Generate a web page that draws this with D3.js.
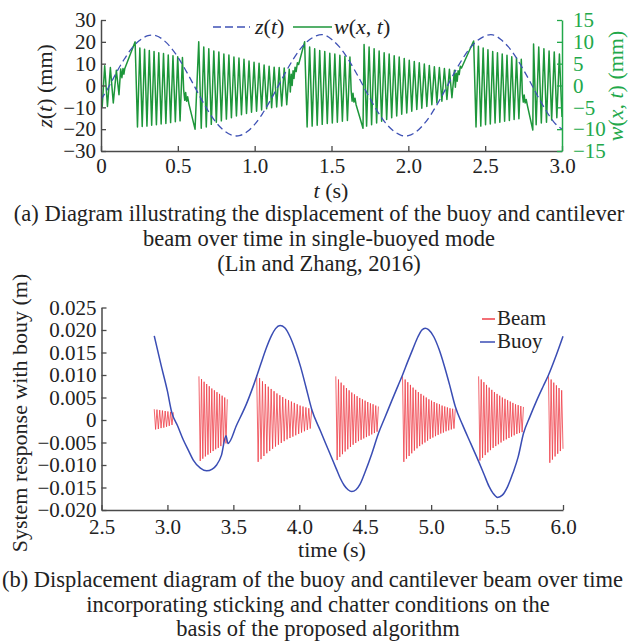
<!DOCTYPE html>
<html>
<head>
<meta charset="utf-8">
<script src="https://cdn.jsdelivr.net/npm/d3@7"></script>
<style>
  body { margin: 0; background: #fff; }
  svg text { font-family: "Liberation Serif", "DejaVu Serif", serif; fill: #222; }
</style>
</head>
<body>
<div id="chart"></div>
<script>

    //=========================================================================
    // Data (a): buoy z(t) in mm, beam w(x,t) in mm (right axis)
    //=========================================================================
    var zTimes = d3.range(0, 61).map(function(i){ return i * 0.05; });
    var zValues = [-6.5,-0.7,5.9,11.9,17.0,20.6,22.7,23.0,21.2,17.8,13.0,7.1,0.7,-5.9,-11.9,-17.0,-20.6,-22.7,-23.0,-21.2,-17.8,-13.0,
                   -7.1,-0.7,5.9,11.9,17.0,20.6,22.7,23.2,21.2,17.8,13.0,7.1,0.7,-5.9,-11.9,-17.0,-20.6,-22.7,-23.0,-21.2,-17.8,-13.0,
                   -7.1,-0.7,5.9,11.9,17.0,20.6,22.7,23.2,21.2,17.8,13.0,7.1,0.7,-5.9,-11.9,-17.0,-20.0];

    var wStart = [[0.000,-2.8],[0.008,-4.8],[0.024,4.5],[0.042,-4.8],[0.061,4.1],[0.080,-4.0],[0.100,3.5],
                  [0.117,-2.1],[0.128,3.8],[0.136,1.8],[0.143,3.9],[0.149,2.6],[0.155,3.9]];

    var wSpans = [[0.222,0.530],[0.636,1.225],[1.325,1.620],[1.712,2.300],[2.425,2.735],[2.815,3.000]];

    var wPeaks0 = [10,-9.5,8.6,-9.4,8.3,-9.3,8.0,-9.1,7.8,-9.0,7.5,-8.8,7.3,-8.7,7.0,-8.5,6.8,-8.3,6.6,-8.1,6.4];
    var wPeaks1 = [10,-9.8,8.8,-9.5,8.4,-8.9,7.9,-8.4,7.7,-8.1,7.2,-7.7,7.0,-7.4,6.5,-7.0,6.3,-6.7,6.0,-6.4,
                   5.6,-6.1,5.3,-5.9,5.1,-5.6,4.7,-5.3,4.4,-5.1,4.2,-4.9,4.1,-4.7,4.0,-4.4,3.7];
    var wPeaks2 = [10,-9.5,8.8,-9.3,8.4,-9.1,8.0,-8.9,7.8,-8.7,7.4,-8.6,7.2,-8.4,6.9,-8.2,6.7,-8.0,6.5];
    var wPeaks3 = [9.4,-9.3,8.8,-9.0,8.4,-8.6,7.9,-8.2,7.5,-7.8,7.2,-7.4,6.8,-7.0,6.5,-6.6,6.2,-6.3,5.8,-5.9,
                   5.5,-5.5,5.2,-5.2,4.9,-4.8,4.6,-4.4,4.3,-4.0,4.1,-3.6,3.9,-3.2,3.7,-2.8,3.5];
    var wPeaks4 = [10.2,-9.5,9.0,-9.3,8.6,-9.0,8.2,-8.8,7.8,-8.6,7.5,-8.4,7.2,-8.2,6.9,-8.0,6.6,-7.8,6.3,-7.6,6.0];
    var wPeaks5 = [9.5,-9.0,8.8,-8.6,8.4,-8.4,7.9,-7.9,7.7,-7.4,7.2,-7.2];

    var wLink0 = [[0.538,-1.0],[0.545,-3.4],[0.551,-1.6],[0.557,-3.6],[0.564,-2.6],[0.572,-4.2],[0.612,-10.0]];
    var wLink1 = [[1.232,-1.5],[1.238,2.6],[1.244,0.0],[1.250,3.4],[1.256,1.6],[1.263,4.2],[1.270,3.2],[1.278,5.2],[1.286,4.8]];
    var wLink2 = [[1.628,-1.2],[1.634,-3.6],[1.640,-1.8],[1.646,-3.8],[1.653,-2.9],[1.660,-4.4],[1.705,-9.8]];
    var wLink3 = [[2.306,-0.4],[2.312,2.8],[2.318,1.0],[2.324,3.4],[2.331,2.5],[2.338,4.4],[2.346,4.0]];
    var wLink4 = [[2.742,-1.8],[2.748,-3.8],[2.754,-2.2],[2.760,-4.0],[2.767,-3.2],[2.775,-4.6],[2.810,-10.2]];

    var topXTicks = [0, 0.5, 1.0, 1.5, 2.0, 2.5, 3.0];
    var topLeftTicks = [-30, -20, -10, 0, 10, 20, 30];
    var topRightTicks = [-15, -10, -5, 0, 5, 10, 15];

    //=========================================================================
    // Data (b): buoy and beam response in m
    //=========================================================================
    var buoyPoints = [[2.90,0.0187],[2.95,0.0124],[3.00,0.0064],[3.031,0.0019],[3.08,-0.0015],[3.12,-0.0044],[3.16,-0.0068],
                      [3.196,-0.0089],[3.25,-0.0107],[3.297,-0.0113],[3.34,-0.0109],[3.373,-0.0100],[3.41,-0.0078],[3.444,-0.0035],
                      [3.459,-0.0052],[3.525,-0.0011],[3.601,0.0037],[3.677,0.0097],[3.71,0.0126],[3.75,0.0160],[3.79,0.0188],
                      [3.82,0.0203],[3.854,0.0210],[3.89,0.0205],[3.93,0.0185],[3.97,0.0155],[4.01,0.0118],[4.05,0.0074],
                      [4.094,0.0024],[4.16,-0.0024],[4.22,-0.0066],[4.28,-0.0108],[4.31,-0.0129],[4.34,-0.0145],[4.37,-0.0155],
                      [4.398,-0.0159],[4.43,-0.0155],[4.46,-0.0143],[4.50,-0.0115],[4.55,-0.0075],[4.60,-0.0030],[4.65,0.0006],
                      [4.70,0.0042],[4.75,0.0077],[4.783,0.0100],[4.82,0.0128],[4.86,0.0157],[4.90,0.0185],[4.93,0.0200],
                      [4.955,0.0204],[4.98,0.0201],[5.02,0.0185],[5.06,0.0157],[5.10,0.0120],[5.14,0.0078],[5.183,0.0030],
                      [5.24,-0.0012],[5.30,-0.0052],[5.36,-0.0092],[5.40,-0.0120],[5.44,-0.0148],[5.47,-0.0163],[5.504,-0.0172],
                      [5.54,-0.0167],[5.58,-0.0148],[5.62,-0.0118],[5.66,-0.0082],[5.70,-0.0030],[5.75,0.0008],[5.80,0.0043],
                      [5.85,0.0075],[5.89,0.0100],[5.95,0.0145],[6.00,0.0186]];

    var beamSpans = [[2.900,3.045],[3.239,3.454],[3.677,4.094],[4.277,4.600],[4.783,5.183],[5.360,5.700],[5.890,6.000]];

    var beamPeaks0 = [0.0024,-0.0021,0.0023,-0.0020,0.0022,-0.0018,0.0021,-0.0017,0.0020,-0.0015,0.0019,-0.0013,0.0018,-0.0011,0.0017];
    var beamPeaks1 = [0.0097,-0.0091,0.0091,-0.0086,0.0085,-0.0081,0.0080,-0.0077,0.0075,-0.0073,0.0070,-0.0069,
                      0.0066,-0.0065,0.0062,-0.0062,0.0058,-0.0058,0.0054,-0.0055,0.0050,-0.0052,0.0046];
    var beamPeaks2 = [0.0100,-0.0093,0.0093,-0.0087,0.0086,-0.0080,0.0080,-0.0074,0.0074,-0.0069,0.0069,-0.0064,0.0064,-0.0059,
                      0.0059,-0.0055,0.0055,-0.0051,0.0051,-0.0047,0.0047,-0.0043,0.0044,-0.0040,0.0041,-0.0037,0.0038,-0.0034,
                      0.0035,-0.0031,0.0032,-0.0028,0.0030,-0.0025,0.0028,-0.0022,0.0026,-0.0019,0.0024];
    var beamPeaks3 = [0.0097,-0.0089,0.0090,-0.0082,0.0083,-0.0076,0.0077,-0.0070,0.0071,-0.0065,0.0066,-0.0060,0.0061,-0.0055,
                      0.0057,-0.0051,0.0053,-0.0047,0.0049,-0.0044,0.0046,-0.0041,0.0043,-0.0038,0.0040,-0.0035,0.0037,-0.0032,
                      0.0035,-0.0029,0.0032,-0.0026,0.0030];
    var beamPeaks4 = [0.0097,-0.0093,0.0090,-0.0086,0.0084,-0.0080,0.0078,-0.0074,0.0072,-0.0068,0.0067,-0.0063,0.0062,-0.0058,
                      0.0058,-0.0054,0.0054,-0.0050,0.0050,-0.0046,0.0046,-0.0042,0.0043,-0.0039,0.0040,-0.0036,0.0037,-0.0033,
                      0.0035,-0.0030,0.0032,-0.0028,0.0030,-0.0025,0.0028,-0.0023,0.0026,-0.0021,0.0025,-0.0019,0.0024];
    var beamPeaks5 = [0.0097,-0.0090,0.0090,-0.0084,0.0084,-0.0078,0.0078,-0.0072,0.0072,-0.0067,0.0067,-0.0062,0.0062,-0.0058,
                      0.0058,-0.0054,0.0054,-0.0050,0.0050,-0.0046,0.0047,-0.0043,0.0044,-0.0040,0.0041,-0.0037,0.0038,-0.0034,
                      0.0035,-0.0031,0.0033,-0.0029,0.0031,-0.0027,0.0029];
    var beamPeaks6 = [0.0097,-0.0095,0.0090,-0.0088,0.0083,-0.0081,0.0077,-0.0075,0.0071,-0.0069,0.0066,-0.0064];

    var botXTicks = [2.5, 3.0, 3.5, 4.0, 4.5, 5.0, 5.5, 6.0];
    var botYTicks = [-0.020, -0.015, -0.010, -0.005, 0, 0.005, 0.010, 0.015, 0.020, 0.025];

    var captionA = ["(a) Diagram illustrating the displacement of the buoy and cantilever",
                    "beam over time in single-buoyed mode",
                    "(Lin and Zhang, 2016)"];
    var captionB = ["(b) Displacement diagram of the buoy and cantilever beam over time",
                    "incorporating sticking and chatter conditions on the",
                    "basis of the proposed algorithm"];

    //=========================================================================
    // Set Initial Formatting
    //=========================================================================
    var width = 632, height = 643, fontSize = 21, labelSize = 22, capSize = 22.5;
    var axisColor = "#4a4a4a", greenAxis = "#22a84a", greenLine = "#1d963a",
        blueDash = "#3f52b5", buoyBlue = "#3a4db4", beamRed = "#ef3f48";

    var svg = d3.select("#chart").append("svg")
      .attr("width", width)
      .attr("height", height);

    function burst(span, peaks) {
      var n = peaks.length;
      return peaks.map(function(v, i){ return [span[0] + (span[1] - span[0]) * i / (n - 1), v]; });
    }

    //=========================================================================
    // Chart (a)
    //=========================================================================
    var xA = d3.scaleLinear().domain([0, 3]).range([101, 562]);
    var yA = d3.scaleLinear().domain([-30, 30]).range([151, 20]);
    var yW = d3.scaleLinear().domain([-15, 15]).range([151, 20]);

    svg.append("clipPath").attr("id", "clipA")
      .append("rect").attr("x", 101).attr("y", 0).attr("width", 461).attr("height", 160);

    var wLinks = [wLink0, wLink1, wLink2, wLink3, wLink4];
    var wPeaks = [wPeaks0, wPeaks1, wPeaks2, wPeaks3, wPeaks4, wPeaks5];
    var wPath = wStart.slice();
    wPeaks.forEach(function(p, i){
      wPath = wPath.concat(burst(wSpans[i], p));
      if (wLinks[i]) wPath = wPath.concat(wLinks[i]);
    });

    var gA = svg.append("g").attr("clip-path", "url(#clipA)");

    gA.append("path")
      .datum(wPath)
      .attr("fill", "none")
      .attr("stroke", greenLine)
      .attr("stroke-width", 1.5)
      .attr("stroke-linejoin", "round")
      .attr("d", d3.line().x(function(d){ return xA(d[0]); }).y(function(d){ return yW(d[1]); }));

    gA.append("path")
      .datum(zTimes.map(function(t, i){ return [t, zValues[i]]; }))
      .attr("fill", "none")
      .attr("stroke", blueDash)
      .attr("stroke-width", 1.3)
      .attr("stroke-dasharray", "7,4")
      .attr("d", d3.line().curve(d3.curveNatural).x(function(d){ return xA(d[0]); }).y(function(d){ return yA(d[1]); }));

    var fmtA = function(d){ return d === 0 ? "0" : d3.format(".1f")(d); };

    var axA = svg.append("g").attr("transform", "translate(0,151)")
      .call(d3.axisBottom(xA).tickValues(topXTicks).tickFormat(fmtA).tickSizeInner(-5).tickSizeOuter(0).tickPadding(7));
    var ayA = svg.append("g").attr("transform", "translate(101,0)")
      .call(d3.axisLeft(yA).tickValues(topLeftTicks).tickFormat(d3.format("d")).tickSizeInner(-5).tickSizeOuter(0).tickPadding(5));
    var ayW = svg.append("g").attr("transform", "translate(562,0)")
      .call(d3.axisRight(yW).tickValues(topRightTicks).tickFormat(d3.format("d")).tickSizeInner(-5).tickSizeOuter(0).tickPadding(11));

    [axA, ayA].forEach(function(g){
      g.select(".domain").attr("stroke", axisColor).attr("stroke-width", 1.5);
      g.selectAll(".tick line").attr("stroke", axisColor).attr("stroke-width", 1.3);
      g.selectAll(".tick text").attr("font-size", fontSize).attr("fill", "#222");
    });
    ayW.select(".domain").attr("stroke", greenAxis).attr("stroke-width", 1.5);
    ayW.selectAll(".tick line").attr("stroke", greenAxis).attr("stroke-width", 1.3);
    ayW.selectAll(".tick text").attr("font-size", fontSize).style("fill", greenAxis);

    // axis labels (a)
    var labZ = svg.append("text").attr("transform", "translate(52,86) rotate(-90)")
      .attr("text-anchor", "middle").attr("font-size", labelSize);
    labZ.append("tspan").attr("font-style", "italic").text("z");
    labZ.append("tspan").text("(");
    labZ.append("tspan").attr("font-style", "italic").text("t");
    labZ.append("tspan").text(") (mm)");

    var labW = svg.append("text").attr("transform", "translate(623,86) rotate(-90)")
      .attr("text-anchor", "middle").attr("font-size", labelSize).style("fill", greenAxis);
    labW.append("tspan").attr("font-style", "italic").style("fill", greenAxis).text("w");
    labW.append("tspan").style("fill", greenAxis).text("(");
    labW.append("tspan").attr("font-style", "italic").style("fill", greenAxis).text("x");
    labW.append("tspan").style("fill", greenAxis).text(", ");
    labW.append("tspan").attr("font-style", "italic").style("fill", greenAxis).text("t");
    labW.append("tspan").style("fill", greenAxis).text(") (mm)");

    var labT = svg.append("text").attr("x", 331).attr("y", 198)
      .attr("text-anchor", "middle").attr("font-size", labelSize);
    labT.append("tspan").attr("font-style", "italic").text("t");
    labT.append("tspan").text(" (s)");

    // legend (a)
    svg.append("line").attr("x1", 213).attr("x2", 250).attr("y1", 27).attr("y2", 27)
      .attr("stroke", blueDash).attr("stroke-width", 1.5).attr("stroke-dasharray", "8,4");
    var lgZ = svg.append("text").attr("x", 255).attr("y", 34).attr("font-size", labelSize);
    lgZ.append("tspan").attr("font-style", "italic").text("z");
    lgZ.append("tspan").text("(");
    lgZ.append("tspan").attr("font-style", "italic").text("t");
    lgZ.append("tspan").text(")");
    svg.append("line").attr("x1", 293).attr("x2", 332).attr("y1", 27).attr("y2", 27)
      .attr("stroke", greenLine).attr("stroke-width", 1.5);
    var lgW = svg.append("text").attr("x", 334).attr("y", 34).attr("font-size", labelSize);
    lgW.append("tspan").attr("font-style", "italic").text("w");
    lgW.append("tspan").text("(");
    lgW.append("tspan").attr("font-style", "italic").text("x");
    lgW.append("tspan").text(", ");
    lgW.append("tspan").attr("font-style", "italic").text("t");
    lgW.append("tspan").text(")");

    //=========================================================================
    // Chart (b)
    //=========================================================================
    var xB = d3.scaleLinear().domain([2.5, 6]).range([101.5, 563]);
    var yB = d3.scaleLinear().domain([-0.020, 0.025]).range([510, 307.5]);

    var beamPeaks = [beamPeaks0, beamPeaks1, beamPeaks2, beamPeaks3, beamPeaks4, beamPeaks5, beamPeaks6];
    var lineB = d3.line().x(function(d){ return xB(d[0]); }).y(function(d){ return yB(d[1]); });

    svg.append("g").selectAll("path")
      .data(beamPeaks.map(function(p, i){ return burst(beamSpans[i], p); }))
      .enter().append("path")
      .attr("fill", "none")
      .attr("stroke", beamRed)
      .attr("stroke-opacity", 0.8)
      .attr("stroke-width", 1)
      .attr("d", lineB);

    svg.append("path")
      .datum(buoyPoints)
      .attr("fill", "none")
      .attr("stroke", buoyBlue)
      .attr("stroke-width", 1.5)
      .attr("d", d3.line().curve(d3.curveMonotoneX).x(function(d){ return xB(d[0]); }).y(function(d){ return yB(d[1]); }));

    var fmtB = function(d){ return d === 0 ? "0" : d3.format(".3f")(d); };

    var axB = svg.append("g").attr("transform", "translate(0,510)")
      .call(d3.axisBottom(xB).tickValues(botXTicks).tickFormat(d3.format(".1f")).tickSizeInner(-5).tickSizeOuter(0).tickPadding(9));
    var ayB = svg.append("g").attr("transform", "translate(101.5,0)")
      .call(d3.axisLeft(yB).tickValues(botYTicks).tickFormat(fmtB).tickSizeInner(-5).tickSizeOuter(0).tickPadding(5));
    [axB, ayB].forEach(function(g){
      g.select(".domain").attr("stroke", axisColor).attr("stroke-width", 1.5);
      g.selectAll(".tick line").attr("stroke", axisColor).attr("stroke-width", 1.3);
      g.selectAll(".tick text").attr("font-size", fontSize).attr("fill", "#222");
    });

    svg.append("text").attr("transform", "translate(27,413) rotate(-90)")
      .attr("text-anchor", "middle").attr("font-size", labelSize)
      .text("System response with bouy (m)");
    svg.append("text").attr("x", 332).attr("y", 557)
      .attr("text-anchor", "middle").attr("font-size", labelSize).text("time (s)");

    // legend (b)
    svg.append("line").attr("x1", 482).attr("x2", 495).attr("y1", 319).attr("y2", 319)
      .attr("stroke", beamRed).attr("stroke-width", 1.5);
    svg.append("text").attr("x", 497).attr("y", 325).attr("font-size", 21).text("Beam");
    svg.append("line").attr("x1", 480).attr("x2", 495).attr("y1", 342).attr("y2", 342)
      .attr("stroke", buoyBlue).attr("stroke-width", 1.5);
    svg.append("text").attr("x", 497).attr("y", 348).attr("font-size", 21).text("Buoy");

    //=========================================================================
    // Captions
    //=========================================================================
    svg.append("g").selectAll("text").data(captionA).enter().append("text")
      .attr("x", 319).attr("y", function(d, i){ return 221 + i * 25; })
      .attr("text-anchor", "middle").attr("font-size", capSize).text(function(d){ return d; });
    svg.append("g").selectAll("text").data(captionB).enter().append("text")
      .attr("x", function(d, i){ return i === 0 ? 2 : 318; })
      .attr("y", function(d, i){ return 587 + i * 24.5; })
      .attr("text-anchor", function(d, i){ return i === 0 ? "start" : "middle"; })
      .attr("font-size", capSize).text(function(d){ return d; });

</script>
</body>
</html>
